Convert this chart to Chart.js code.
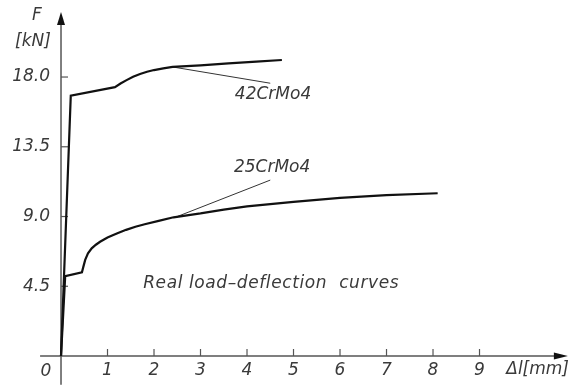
<!DOCTYPE html>
<html>
<head>
<meta charset="utf-8">
<script src="https://cdn.jsdelivr.net/npm/chart.js@4"></script>
<style>
  html, body { margin: 0; padding: 0; background: #ffffff; }
  #wrap { width: 570px; height: 385px; }
</style>
</head>
<body>
<div id="wrap"><canvas id="chart" width="570" height="385"></canvas></div>
<script>
// ===== DONNÉES =====
// deflection Δl [mm] and load F [kN]
const deflection42 = [0, 0.21, 1.16, 1.28, 1.41, 1.55, 1.7, 1.85, 2.0, 2.2, 2.4, 3.0, 3.6, 4.2, 4.75]
const load42 = [0, 16.8, 17.35, 17.58, 17.8, 18.02, 18.2, 18.34, 18.45, 18.56, 18.65, 18.75, 18.88, 19.0, 19.1]

const deflection25 = [0, 0.09, 0.45, 0.48, 0.52, 0.58, 0.66, 0.75, 0.84, 1.0, 1.2, 1.4, 1.6, 1.8, 2.1, 2.42, 3.0, 3.5, 4.0, 5.0, 6.0, 7.0, 8.1]
const load25 = [0, 5.15, 5.4, 5.75, 6.2, 6.62, 6.95, 7.18, 7.37, 7.65, 7.9, 8.14, 8.34, 8.5, 8.72, 8.95, 9.2, 9.45, 9.65, 9.95, 10.2, 10.38, 10.5]

const xTicks = [1, 2, 3, 4, 5, 6, 7, 8, 9]
const yTicks = [4.5, 9.0, 13.5, 18.0]
const yTickLabels = ['4.5', '9.0', '13.5', '18.0']

const seriesNames = ['42CrMo4', '25CrMo4']
// leader lines: from a point on the curve to the label
const leader42 = [[2.4, 18.65], [4.5, 17.6]]
const leader25 = [[2.5, 9.0], [4.5, 11.35]]

// ===== STYLES =====
const ink = '#111111'
const textColor = '#3a3a3a'
const axisColor = '#555555'
const labelFont = 'italic 17px "DejaVu Sans"'

function toPoints(xs, ys) {
  return xs.map((x, i) => ({ x: x, y: ys[i] }))
}

// ===== AXES DESSINÉS À LA MAIN =====
const drawingAxes = {
  id: 'drawingAxes',
  beforeDatasetsDraw(chart) {
    const ctx = chart.ctx
    const sx = chart.scales.x
    const sy = chart.scales.y
    const x0 = sx.getPixelForValue(0)
    const y0 = sy.getPixelForValue(0)

    ctx.save()
    ctx.strokeStyle = axisColor
    ctx.fillStyle = '#111'
    ctx.lineWidth = 1.5

    // y axis
    const yTop = sy.getPixelForValue(22.2)
    ctx.beginPath()
    ctx.moveTo(x0, sy.getPixelForValue(-1.85))
    ctx.lineTo(x0, yTop + 10)
    ctx.stroke()
    ctx.beginPath()
    ctx.moveTo(x0, yTop)
    ctx.lineTo(x0 - 4, yTop + 13)
    ctx.lineTo(x0 + 4, yTop + 13)
    ctx.closePath()
    ctx.fill()

    // x axis
    const xEnd = sx.getPixelForValue(10.9)
    ctx.beginPath()
    ctx.moveTo(sx.getPixelForValue(-0.45), y0)
    ctx.lineTo(xEnd - 10, y0)
    ctx.stroke()
    ctx.beginPath()
    ctx.moveTo(xEnd, y0)
    ctx.lineTo(xEnd - 14, y0 - 3.5)
    ctx.lineTo(xEnd - 14, y0 + 3.5)
    ctx.closePath()
    ctx.fill()

    // ticks
    ctx.lineWidth = 1.2
    xTicks.forEach((t) => {
      const px = sx.getPixelForValue(t)
      ctx.beginPath()
      ctx.moveTo(px, y0)
      ctx.lineTo(px, y0 - 7)
      ctx.stroke()
    })
    yTicks.forEach((t) => {
      const py = sy.getPixelForValue(t)
      ctx.beginPath()
      ctx.moveTo(x0, py)
      ctx.lineTo(x0 + 7, py)
      ctx.stroke()
    })

    // tick labels
    ctx.fillStyle = textColor
    ctx.font = labelFont
    ctx.textBaseline = 'middle'
    ctx.textAlign = 'center'
    xTicks.forEach((t) => {
      ctx.fillText(String(t), sx.getPixelForValue(t), y0 + 15)
    })
    ctx.fillText('0', x0 - 15, y0 + 16)
    ctx.textAlign = 'right'
    yTicks.forEach((t, i) => {
      ctx.fillText(yTickLabels[i], x0 - 11, sy.getPixelForValue(t))
    })

    // axis titles
    ctx.textAlign = 'center'
    ctx.fillText('F', x0 - 24, yTop + 4)
    ctx.fillText('[kN]', x0 - 28, yTop + 30)
    ctx.textAlign = 'right'
    ctx.fillText('\u0394l[mm]', 569, y0 + 14)

    // annotations
    ctx.textAlign = 'center'
    ctx.fillText(seriesNames[0], sx.getPixelForValue(4.56), sy.getPixelForValue(16.84))
    ctx.fillText(seriesNames[1], sx.getPixelForValue(4.54), sy.getPixelForValue(12.13))
    ctx.letterSpacing = '0.6px'
    ctx.fillText('Real load\u2013deflection  curves', sx.getPixelForValue(4.52), sy.getPixelForValue(4.7))
    ctx.restore()
  },
}

// ===== GRAPHIQUE =====
const chart = new Chart(document.getElementById('chart'), {
  type: 'line',
  data: {
    datasets: [
      {
        label: seriesNames[0],
        data: toPoints(deflection42, load42),
        borderColor: ink,
        borderWidth: 2.2,
        pointRadius: 0,
        tension: 0,
      },
      {
        label: seriesNames[1],
        data: toPoints(deflection25, load25),
        borderColor: ink,
        borderWidth: 2.2,
        pointRadius: 0,
        tension: 0,
      },
      {
        label: 'leader42',
        data: leader42.map((p) => ({ x: p[0], y: p[1] })),
        borderColor: '#333',
        borderWidth: 1,
        pointRadius: 0,
      },
      {
        label: 'leader25',
        data: leader25.map((p) => ({ x: p[0], y: p[1] })),
        borderColor: '#333',
        borderWidth: 1,
        pointRadius: 0,
      },
    ],
  },
  options: {
    responsive: false,
    animation: false,
    layout: { padding: 0 },
    scales: {
      x: { type: 'linear', display: false, min: -1.312, max: 10.946 },
      y: { type: 'linear', display: false, min: -1.87, max: 22.97 },
    },
    plugins: {
      legend: { display: false },
      tooltip: { enabled: false },
    },
  },
  plugins: [drawingAxes],
})
</script>
</body>
</html>
